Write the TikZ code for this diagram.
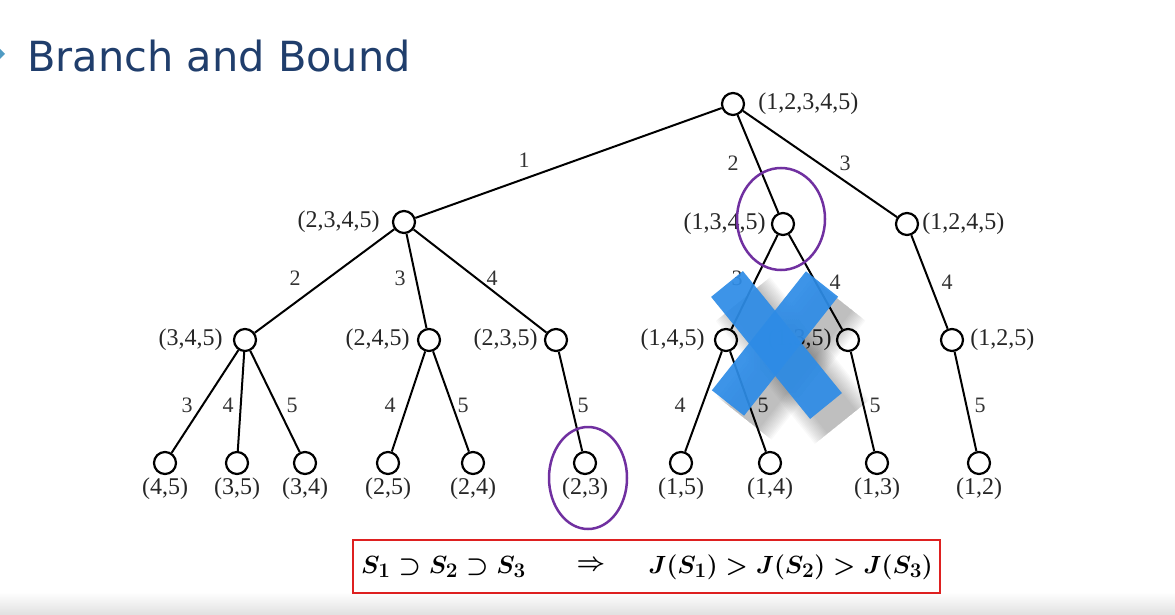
\documentclass[tikz,border=0pt]{standalone}
\usepackage{fontspec}
\setmainfont{Liberation Serif}
\newfontfamily\headfont{DejaVu Sans}
\usetikzlibrary{positioning}

\definecolor{headblue}{RGB}{32,62,108}
\definecolor{bulletblue}{RGB}{80,155,195}
\definecolor{ringpurple}{RGB}{112,48,160}
\definecolor{crossblue}{RGB}{46,140,230}
\definecolor{boxred}{RGB}{222,32,32}

\begin{document}
\begin{tikzpicture}[x=1pt,y=-1pt,
  vtx/.style={circle,draw,line width=2.2pt,fill=white,minimum size=22pt,inner sep=0pt},
  link/.style={line width=2pt},
  lbl/.style={font=\fontsize{24}{24}\selectfont,text=black!85,inner sep=1pt},
  elab/.style={font=\fontsize{22}{22}\selectfont,text=black!80,inner sep=0pt},
  ring/.style={draw=ringpurple,line width=2.5pt},
  xbar/.style={line width=41pt,crossblue,opacity=0.93,line cap=butt},
  fml/.style={font=\fontsize{30}{30}\selectfont\boldmath,inner sep=0pt}]
  \useasboundingbox (0,0) rectangle (1175,615);

  % Slide background
  \shade[top color=white,bottom color=black!12] (0,592) rectangle (1175,615);
  \fill[bulletblue] (-3,46) -- (5,54) -- (-3,62) -- cycle;
  \node[font=\headfont\fontsize{41.5}{42}\selectfont,text=headblue,anchor=base west,inner sep=0pt]
    (head) at (27,72) {Branch and Bound};

  % Tree vertices
  \node[vtx] (r) at (733,104) {};
  \node[vtx] (a) at (404,222) {};
  \node[vtx] (b) at (783,224) {};
  \node[vtx] (c) at (907,224) {};
  \node[vtx] (aa) at (245,340) {};
  \node[vtx] (ab) at (429,340) {};
  \node[vtx] (ac) at (556,340) {};
  \node[vtx] (ba) at (726,340) {};
  \node[vtx] (bb) at (848,340) {};
  \node[vtx] (ca) at (952,340) {};
  \foreach \n/\x in {aa1/165,aa2/237,aa3/305,ab1/388,ab2/473,ac1/585,ba1/681,ba2/770,bb1/877,ca1/979}
    \node[vtx] (\n) at (\x,463) {};

  % Branches
  \foreach \u/\v in {r/a,r/b,r/c,a/aa,a/ab,a/ac,b/ba,b/bb,c/ca,aa/aa1,aa/aa2,aa/aa3,
                     ab/ab1,ab/ab2,ac/ac1,ba/ba1,ba/ba2,bb/bb1,ca/ca1}
    \draw[link] (\u) -- (\v);

  % Remaining sets
  \node[lbl,right=12pt of r] (r-l) {(1,2,3,4,5)};
  \node[lbl,left=11pt of a] (a-l) {(2,3,4,5)};
  \node[lbl,left=4pt of b] (b-l) {(1,3,4,5)};
  \node[lbl,right=2pt of c] (c-l) {(1,2,4,5)};
  \node[lbl,left=9pt of aa] (aa-l) {(3,4,5)};
  \node[lbl,left=6pt of ab] (ab-l) {(2,4,5)};
  \node[lbl,left=5pt of ac] (ac-l) {(2,3,5)};
  \node[lbl,left=8pt of ba] (ba-l) {(1,4,5)};
  \node[lbl,left=3pt of bb] (bb-l) {(1,3,5)};
  \node[lbl,right=5pt of ca] (ca-l) {(1,2,5)};
  \foreach \n/\t in {aa1/{(4,5)},aa2/{(3,5)},aa3/{(3,4)},ab1/{(2,5)},ab2/{(2,4)},
                     ac1/{(2,3)},ba1/{(1,5)},ba2/{(1,4)},bb1/{(1,3)},ca1/{(1,2)}}
    \node[lbl,below=1.5pt of \n] (\n-l) {\t};

  % Removed variables
  \foreach \x/\y/\t [count=\i] in {524/160/1,733/163/2,845/163/3,295/278/2,400/278/3,492/278/4,
      737/278/3,835/282/4,947/282/4,187/405/3,228/405/4,292/405/5,390/405/4,463/405/5,
      583/405/5,680/405/4,763/405/5,875/405/5,980/405/5}
    \node[elab] (w\i) at (\x,\y) {\t};

  % Marks
  \draw[ring] (781,219) ellipse [x radius=44pt,y radius=51pt];
  \draw[ring] (588,478) ellipse [x radius=39pt,y radius=51pt];

  \foreach \k in {1,...,12} {
    \pgfmathsetmacro\w{34+3*\k}
    \draw[line width=\w pt,black,opacity=0.022,line cap=butt] (743,299) -- (842,422);
    \draw[line width=\w pt,black,opacity=0.022,line cap=butt] (838,299) -- (744,418);
  }
  \draw[xbar] (727,284) -- (826,406);
  \draw[xbar] (822,284) -- (728,403);

  % Bound property
  \node[draw=boxred,line width=2pt,minimum width=587pt,minimum height=53pt,inner sep=0pt]
    (bound) at (646.5,566.5) {};
  \node[fml,anchor=west] (f1) at (361,567) {$S_1\supset S_2\supset S_3$};
  \node[fml] (f2) at (591,566) {$\Rightarrow$};
  \node[fml,anchor=east] (f3) at (933,567) {$J(S_1)>J(S_2)>J(S_3)$};
\end{tikzpicture}
\end{document}
